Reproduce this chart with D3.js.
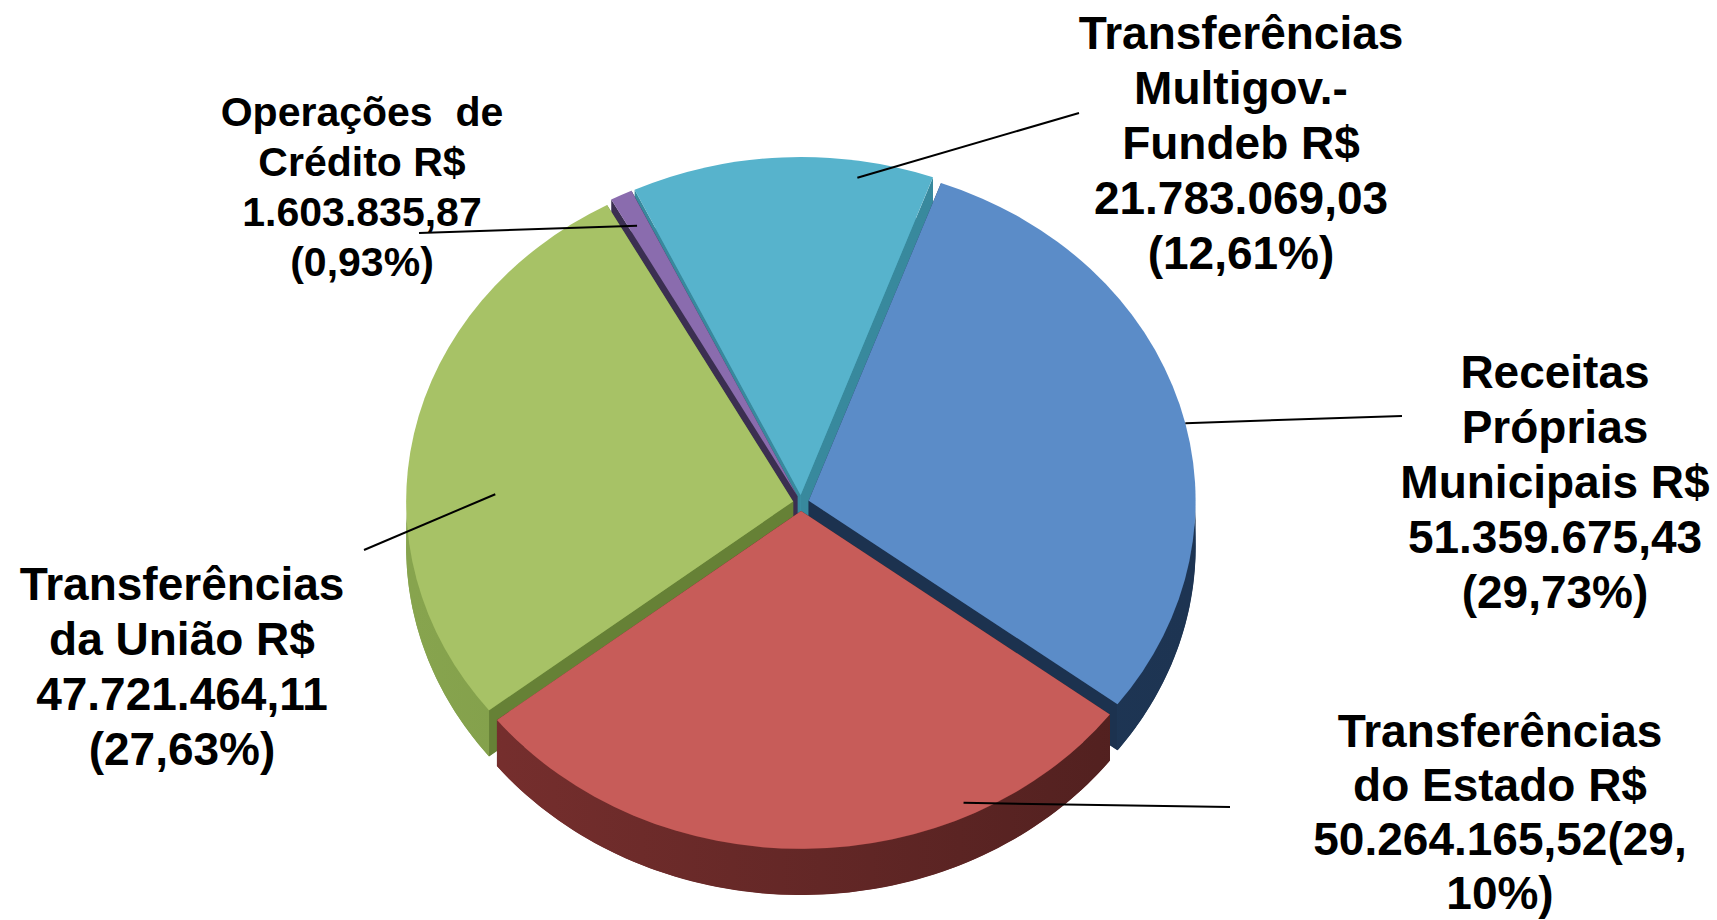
<!DOCTYPE html>
<html><head><meta charset="utf-8">
<script src="https://cdn.jsdelivr.net/npm/d3@7"></script>
<style>html,body{margin:0;padding:0;background:#fff;}svg{display:block;}</style>
</head><body><svg id="c" width="1717" height="920"></svg>
<script>
// ---- data ----
const categories = ["Receitas Próprias Municipais", "Transferências do Estado", "Transferências da União", "Operações de Crédito", "Transferências Multigov.- Fundeb"];
const values = [51359675.43, 50264165.52, 47721464.11, 1603835.87, 21783069.03];
const percents = ["29,73%", "29,10%", "27,63%", "0,93%", "12,61%"];
const labelLines = [
  ["Receitas", "Próprias", "Municipais R$", "51.359.675,43", "(29,73%)"],
  ["Transferências", "do Estado R$", "50.264.165,52(29,", "10%)"],
  ["Transferências", "da União R$", "47.721.464,11", "(27,63%)"],
  ["Operações  de", "Crédito R$", "1.603.835,87", "(0,93%)"],
  ["Transferências", "Multigov.-", "Fundeb R$", "21.783.069,03", "(12,61%)"]
];
const topColors = ["#5b8cc8", "#c75c59", "#a7c266", "#8a6cae", "#57b3cc"];
const sideColors = [["#223d5e", "#1d3452"], ["#7a302f", "#4e1f1e"], ["#87a44e", "#6a8638"], ["#4c3d66", "#3d3154"], ["#45a0b6", "#3a8ea3"]];

// ---- layout ----
const W = 1717, H = 920;
const cx = 801, cy = 503, rx = 387, ry = 338, depth = 46, explode = 8;
// label layout: center x, first baseline, font size, line step, leader (t along slice, r fraction, end x, end y)
const labelLayout = [
  {x: 1555, y: 388, fs: 46, step: 55, t: 0.53, r: 1.0, ex: 1402, ey: 416},
  {x: 1500, y: 747, fs: 46, step: 54, t: 0.258, r: 0.96, ex: 1230, ey: 807},
  {x: 182, y: 600, fs: 46, step: 55, t: 0.40, r: 0.77, ex: 364, ey: 550},
  {x: 362, y: 126, fs: 41, step: 50, t: 0.40, r: 0.90, ex: 419, ey: 233},
  {x: 1241, y: 49, fs: 46, step: 55, t: 0.755, r: 0.95, ex: 1079, ey: 113}
];

const svg = d3.select("#c");
const defs = svg.append("defs");
const deg = Math.PI / 180;
const pie = d3.pie().sort(null).startAngle(20 * deg).endAngle(380 * deg);
const arcs = pie(values);

arcs.forEach((d, i) => {
  const mid = (d.startAngle + d.endAngle) / 2;
  d.ox = explode * Math.sin(mid);
  d.oy = -explode * Math.cos(mid);
  d.i = i;
  d.backness = -Math.cos(mid);
  const g = defs.append("linearGradient").attr("id", "side" + i)
    .attr("gradientUnits", "userSpaceOnUse")
    .attr("x1", cx - rx).attr("x2", cx + rx).attr("y1", 0).attr("y2", 0);
  g.append("stop").attr("offset", "0%").attr("stop-color", sideColors[i][0]);
  g.append("stop").attr("offset", "100%").attr("stop-color", sideColors[i][1]);
});

function pt(d, a, r, dz) {
  return [cx + d.ox + r * rx * Math.sin(a), cy + d.oy - r * ry * Math.cos(a) + (dz || 0)];
}

const arcGen = d3.arc().innerRadius(0).outerRadius(1);
const line = d3.line();
const order = arcs.slice().sort((a, b) => a.backness - b.backness);

const pieG = svg.append("g");
order.forEach(d => {
  const g = pieG.append("g");
  const fillSide = "url(#side" + d.i + ")";
  // bottom face
  g.append("path")
    .attr("d", arcGen(d))
    .attr("transform", `translate(${cx + d.ox},${cy + d.oy + depth}) scale(${rx},${ry})`)
    .attr("fill", fillSide);
  // radial faces
  [d.startAngle, d.endAngle].forEach(a => {
    const O = pt(d, 0, 0), E = pt(d, a, 1);
    g.append("path")
      .attr("d", line([O, E, [E[0], E[1] + depth], [O[0], O[1] + depth]]) + "Z")
      .attr("fill", d3.color(sideColors[d.i][1]).darker(0.1));
  });
  // outer wall (front half)
  const lo = Math.max(d.startAngle, 90 * deg), hi = Math.min(d.endAngle, 270 * deg);
  if (hi > lo) {
    const n = 80;
    const angs = d3.range(n + 1).map(k => lo + (hi - lo) * k / n);
    const topPts = angs.map(a => pt(d, a, 1));
    const botPts = angs.slice().reverse().map(a => pt(d, a, 1, depth));
    g.append("path").attr("d", line(topPts.concat(botPts)) + "Z").attr("fill", fillSide);
  }
  // top face
  g.append("path")
    .attr("d", arcGen(d))
    .attr("transform", `translate(${cx + d.ox},${cy + d.oy}) scale(${rx},${ry})`)
    .attr("fill", topColors[d.i]);
});

// leader lines
arcs.forEach(d => {
  const L = labelLayout[d.i];
  const a = d.startAngle + (d.endAngle - d.startAngle) * L.t;
  const P = pt(d, a, L.r);
  svg.append("line")
    .attr("x1", P[0]).attr("y1", P[1]).attr("x2", L.ex).attr("y2", L.ey)
    .attr("stroke", "#000").attr("stroke-width", 2);
});

// labels
arcs.forEach(d => {
  const L = labelLayout[d.i];
  const t = svg.append("text")
    .attr("text-anchor", "middle")
    .attr("font-family", "'Liberation Sans', Arial, sans-serif")
    .attr("font-weight", "bold")
    .attr("font-size", L.fs)
    .attr("fill", "#000")
    .attr("xml:space", "preserve")
    .style("white-space", "pre");
  labelLines[d.i].forEach((s, k) => {
    t.append("tspan").attr("x", L.x).attr("y", L.y + k * L.step).text(s);
  });
});
</script></body></html>
